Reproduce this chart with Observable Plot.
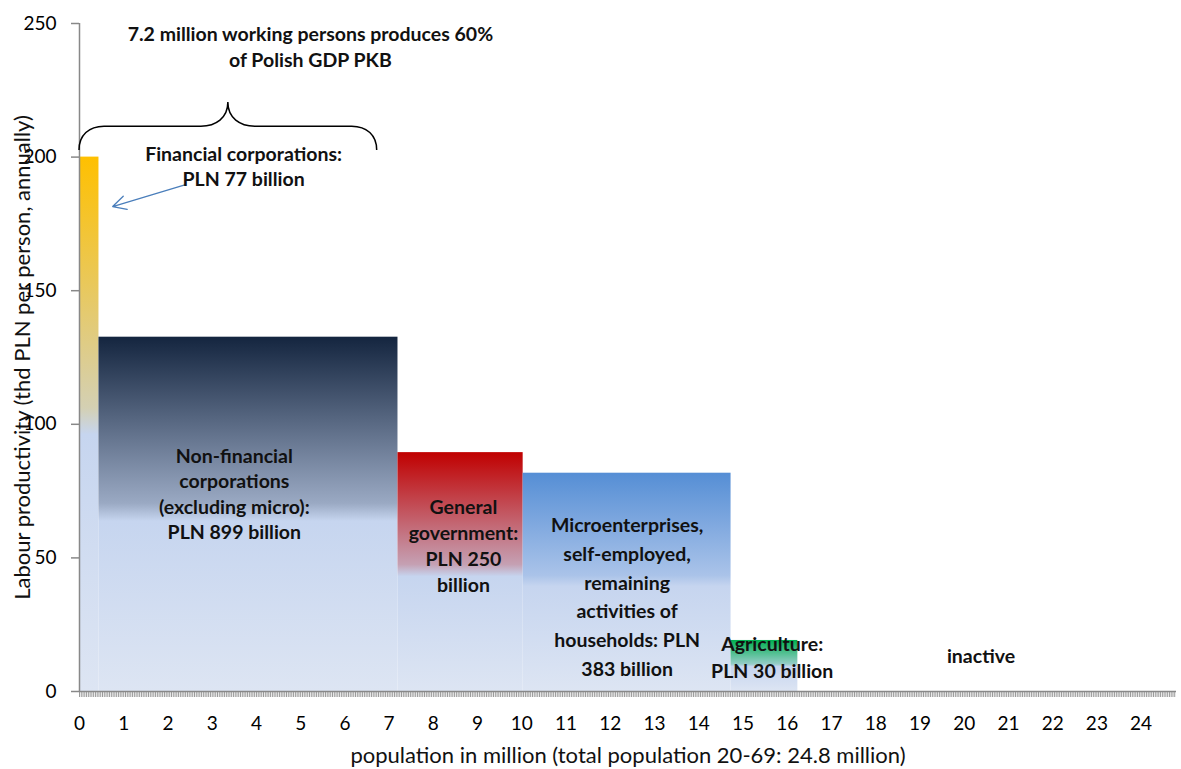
<!DOCTYPE html>
<html>
<head>
<meta charset="utf-8">
<script src="https://cdn.jsdelivr.net/npm/d3@7"></script>
<script src="https://cdn.jsdelivr.net/npm/@observablehq/plot@0.6"></script>
<style>
  html, body { margin: 0; padding: 0; background: #fff; }
  #chart svg { display: block; }
</style>
</head>
<body>
<div id="chart"></div>
<script>
// Sectors of the Polish economy: people employed (million) and labour productivity
const sectors = ["financial", "nonfinancial", "government", "micro", "agriculture", "inactive"];
const employment = [0.44, 6.76, 2.83, 4.70, 1.51, 8.56];     // million persons
const productivity = [200, 132.6, 89.4, 81.7, 19.1, 0];       // thd PLN per person, annually
const gdpShare = [77, 899, 250, 383, 30, null];               // PLN billion

const sectorColors = ["#FFC000", "#14253F", "#C00000", "#558ED5", "#00B050", "#DCE4F3"];

const yTicks = [0, 50, 100, 150, 200, 250];
const xTicks = d3.range(0, 25, 1);

// Stack sectors side by side along the population axis
let acc = 0;
const bars = sectors.map((key, i) => {
  const start = acc;
  acc += employment[i];
  return {key, i, start, end: acc, value: productivity[i]};
}).filter(d => d.value > 0);

// Sector annotations (text, anchor in data units)
const labels = [
  {text: `Financial corporations:\nPLN ${gdpShare[0]} billion`, x: 3.71, y: 197.0, lh: 1.28},
  {text: `Non-financial\ncorporations\n(excluding micro):\nPLN ${gdpShare[1]} billion`, x: 3.50, y: 74.4, lh: 1.31},
  {text: `General\ngovernment:\nPLN ${gdpShare[2]}\nbillion`, x: 8.68, y: 54.8, lh: 1.33},
  {text: `Microenterprises,\nself-employed,\nremaining\nactivities of\nhouseholds: PLN\n${gdpShare[3]} billion`, x: 12.38, y: 36.2, lh: 1.47},
  {text: `Agriculture:\nPLN ${gdpShare[4]} billion`, x: 15.66, y: 13.2, lh: 1.37},
  {text: "inactive", x: 20.38, y: 13.8, lh: 1.3}
];
const headline = "7.2 million working persons produces 60%\nof Polish GDP PKB";
const headlinePos = {x: 5.22, y: 241.8};
const brace = {from: 0, to: 6.73, base: 202.5, arm: 211.4, peak: 220.4};
const pointer = {x1: 2.40, y1: 189.7, x2: 0.75, y2: 181.5};

// Each bar fades from its sector colour into a pale blue toward the base
function gradients() {
  const g = d3.create("svg:g");
  const defs = g.append("defs");
  bars.forEach(b => {
    const c = sectorColors[b.i];
    const lg = defs.append("linearGradient")
      .attr("id", `grad-${b.key}`)
      .attr("x1", 0).attr("y1", 0).attr("x2", 0).attr("y2", 1);
    lg.append("stop").attr("offset", 0).attr("stop-color", c);
    lg.append("stop").attr("offset", 0.47).attr("stop-color", d3.interpolateRgb(c, "#C6D5EF")(0.75));
    lg.append("stop").attr("offset", 0.52).attr("stop-color", "#C6D5EF");
    lg.append("stop").attr("offset", 1).attr("stop-color", "#DDE5F3");
  });
  return g.node();
}

// Curly brace spanning the working population
function braceMark(index, scales) {
  const {x, y} = scales;
  const x0 = x(brace.from), x1 = x(brace.to), xm = (x0 + x1) / 2;
  const yb = y(brace.base), ya = y(brace.arm), yp = y(brace.peak);
  const d = `M${x0},${yb} C${x0},${ya + 9} ${x0 + 10},${ya} ${x0 + 25},${ya}` +
    ` L${xm - 27},${ya} C${xm - 12},${ya} ${xm},${ya - 8} ${xm},${yp}` +
    ` C${xm},${ya - 8} ${xm + 12},${ya} ${xm + 27},${ya}` +
    ` L${x1 - 25},${ya} C${x1 - 10},${ya} ${x1},${ya + 9} ${x1},${yb}`;
  return d3.create("svg:path")
    .attr("d", d)
    .attr("fill", "none")
    .attr("stroke", "#000")
    .attr("stroke-width", 1.5)
    .node();
}

const fontBold = {fontFamily: "Lato", fontWeight: "bold", fontSize: 19.5, fill: "#111"};

const chart = Plot.plot({
  width: 1181,
  height: 769,
  marginLeft: 79,
  marginRight: 5,
  marginTop: 23,
  marginBottom: 78,
  style: {fontFamily: "Lato", fontSize: "19px", color: "#000", background: "#fff"},
  x: {domain: [0, 24.8]},
  y: {domain: [0, 250]},
  marks: [
    gradients,
    ...bars.map(b => Plot.rectY([b], {x1: "start", x2: "end", y: "value", fill: `url(#grad-${b.key})`})),
    // minor ticks along the population axis
    Plot.axisX({ticks: d3.range(0, 24.8, 0.04), tickSize: 6, tickFormat: () => "", stroke: "#9a9a9a", strokeWidth: 1, label: null}),
    Plot.axisX({ticks: xTicks, tickSize: 0, tickPadding: 25, fontSize: 19, label: null}),
    Plot.axisY({ticks: yTicks, tickSize: 8, tickPadding: 15, fontSize: 19, stroke: "#888", strokeWidth: 1.5, label: null}),
    Plot.ruleX([0], {stroke: "#888", strokeWidth: 1.5}),
    Plot.ruleY([0], {stroke: "#888", strokeWidth: 1.5}),
    braceMark,
    Plot.arrow([pointer], {x1: "x1", y1: "y1", x2: "x2", y2: "y2", stroke: "#4A7EBB", strokeWidth: 1.3, headLength: 17, headAngle: 55}),
    ...labels.map(l => Plot.text([l], {x: "x", y: "y", text: "text", lineHeight: l.lh, ...fontBold})),
    Plot.text([headlinePos], {x: "x", y: "y", text: () => headline, lineHeight: 1.32, ...fontBold}),
    Plot.text(["population in million (total population 20-69: 24.8 million)"],
      {frameAnchor: "bottom", lineAnchor: "middle", dy: 64, fontSize: 22, fontFamily: "Lato", fill: "#111"}),
    Plot.text(["Labour productivity (thd PLN per person, annually)"],
      {frameAnchor: "left", dx: -57, rotate: -90, textAnchor: "middle", fontSize: 22, fontFamily: "Lato", fill: "#111"})
  ]
});

document.getElementById("chart").appendChild(chart);
</script>
</body>
</html>
